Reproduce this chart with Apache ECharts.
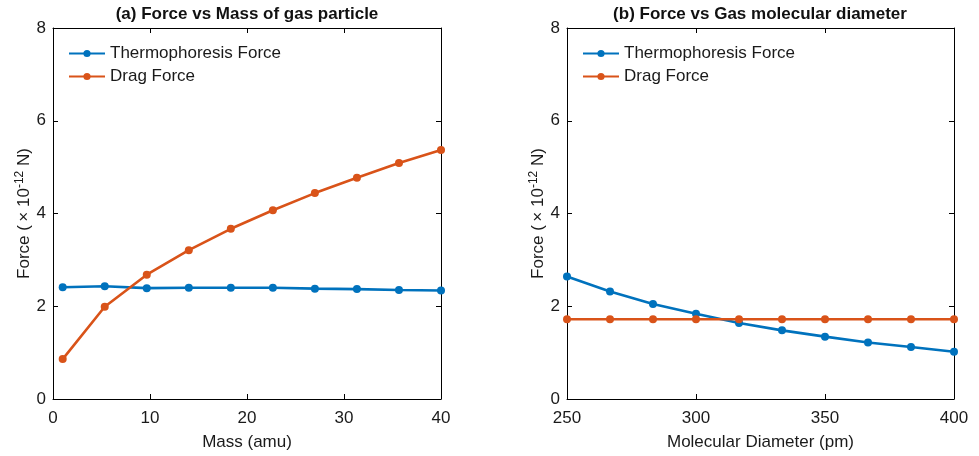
<!DOCTYPE html>
<html>
<head>
<meta charset="utf-8">
<script src="https://cdn.jsdelivr.net/npm/echarts@6/dist/echarts.min.js"></script>
<style>
  html, body { margin: 0; padding: 0; background: #fff; }
  #main { width: 979px; height: 456px; }
</style>
</head>
<body>
<div id="main"></div>
<script>
// (a) force vs mass of gas particle
var massAmu = [1, 5.333, 9.667, 14, 18.333, 22.667, 27, 31.333, 35.667, 40];
var thermoMass = [2.41, 2.43, 2.39, 2.40, 2.40, 2.40, 2.38, 2.37, 2.35, 2.34];
var dragMass = [0.86, 1.99, 2.68, 3.21, 3.67, 4.07, 4.44, 4.77, 5.09, 5.37];

// (b) force vs molecular diameter
var diameterPm = [250, 266.67, 283.33, 300, 316.67, 333.33, 350, 366.67, 383.33, 400];
var thermoDiam = [2.64, 2.32, 2.05, 1.84, 1.64, 1.48, 1.345, 1.22, 1.12, 1.02];
var dragDiam = [1.72, 1.72, 1.72, 1.72, 1.72, 1.72, 1.72, 1.72, 1.72, 1.72];

var names = ['Thermophoresis Force', 'Drag Force'];
var titles = ['(a) Force vs Mass of gas particle', '(b) Force vs Gas molecular diameter'];
var xNames = ['Mass (amu)', 'Molecular Diameter (pm)'];

var blue = '#0072BD';
var orange = '#D95319';
var font = 'Liberation Sans, Arial, Helvetica, sans-serif';
var ink = '#1a1a1a';

function pairs(xs, ys) {
    var out = [];
    for (var i = 0; i < xs.length; i++) out.push([xs[i], ys[i]]);
    return out;
}

var grids = [
    {left: 53, top: 28, width: 388, height: 373},
    {left: 567, top: 28, width: 387, height: 373}
];
var xRanges = [[0, 40, 10], [250, 400, 50]];

var xAxes = [], yAxes = [];
// bottom / left axes with labels
for (var g = 0; g < 2; g++) {
    xAxes.push({
        type: 'value', gridIndex: g, position: 'bottom',
        min: xRanges[g][0], max: xRanges[g][1], interval: xRanges[g][2],
        name: xNames[g], nameLocation: 'middle', nameGap: 35,
        nameTextStyle: {fontFamily: font, fontSize: 17, color: ink},
        axisLine: {onZero: false, lineStyle: {color: '#000', width: 1}},
        axisTick: {inside: true, length: 5, lineStyle: {color: '#000'}},
        axisLabel: {fontFamily: font, fontSize: 17, color: ink, margin: 11},
        splitLine: {show: false}
    });
    yAxes.push({
        type: 'value', gridIndex: g, position: 'left',
        min: 0, max: 8, interval: 2,
        name: '{a|Force (\u2009\u00d7 10}{s|-12}{a| N)}',
        nameLocation: 'middle', nameGap: 18, nameRotate: 90,
        nameTextStyle: {
            fontFamily: font, fontSize: 17, color: ink,
            rich: {
                a: {fontFamily: font, fontSize: 17, color: ink, lineHeight: 20},
                s: {fontFamily: font, fontSize: 12, color: ink, verticalAlign: 'top', lineHeight: 20}
            }
        },
        axisLine: {onZero: false, lineStyle: {color: '#000', width: 1}},
        axisTick: {inside: true, length: 5, lineStyle: {color: '#000'}},
        axisLabel: {fontFamily: font, fontSize: 17, color: ink, margin: 7},
        splitLine: {show: false}
    });
}
// mirrored top / right axes (ticks only)
for (var g = 0; g < 2; g++) {
    xAxes.push({
        type: 'value', gridIndex: g, position: 'top',
        min: xRanges[g][0], max: xRanges[g][1], interval: xRanges[g][2],
        axisLine: {onZero: false, lineStyle: {color: '#000', width: 1}},
        axisTick: {inside: true, length: 5, lineStyle: {color: '#000'}},
        axisLabel: {show: false},
        splitLine: {show: false}
    });
    yAxes.push({
        type: 'value', gridIndex: g, position: 'right',
        min: 0, max: 8, interval: 2,
        axisLine: {onZero: false, lineStyle: {color: '#000', width: 1}},
        axisTick: {inside: true, length: 5, lineStyle: {color: '#000'}},
        axisLabel: {show: false},
        splitLine: {show: false}
    });
}

function line(name, color, axisIdx, data) {
    return {
        name: name, type: 'line',
        xAxisIndex: axisIdx, yAxisIndex: axisIdx,
        data: data,
        symbol: 'circle', symbolSize: 8,
        lineStyle: {color: color, width: 2.6},
        itemStyle: {color: color},
        animation: false
    };
}

var legendBase = {
    orient: 'vertical', top: 40,
    itemWidth: 36, itemHeight: 9, itemGap: 6,
    data: names,
    textStyle: {fontFamily: font, fontSize: 17, color: ink}
};

var option = {
    backgroundColor: '#fff',
    animation: false,
    grid: grids,
    xAxis: xAxes,
    yAxis: yAxes,
    legend: [
        Object.assign({}, legendBase, {left: 63}),
        Object.assign({}, legendBase, {left: 577})
    ],
    graphic: [
        {type: 'text', x: 247, y: 14, style: {text: titles[0], fontFamily: font, fontSize: 17, fontWeight: 'bold', fill: '#111', textAlign: 'center', textVerticalAlign: 'middle'}},
        {type: 'text', x: 760, y: 14, style: {text: titles[1], fontFamily: font, fontSize: 17, fontWeight: 'bold', fill: '#111', textAlign: 'center', textVerticalAlign: 'middle'}}
    ],
    series: [
        line(names[0], blue, 0, pairs(massAmu, thermoMass)),
        line(names[1], orange, 0, pairs(massAmu, dragMass)),
        line(names[0], blue, 1, pairs(diameterPm, thermoDiam)),
        line(names[1], orange, 1, pairs(diameterPm, dragDiam))
    ]
};

var myChart = echarts.init(document.getElementById('main'));
myChart.setOption(option);
</script>
</body>
</html>
